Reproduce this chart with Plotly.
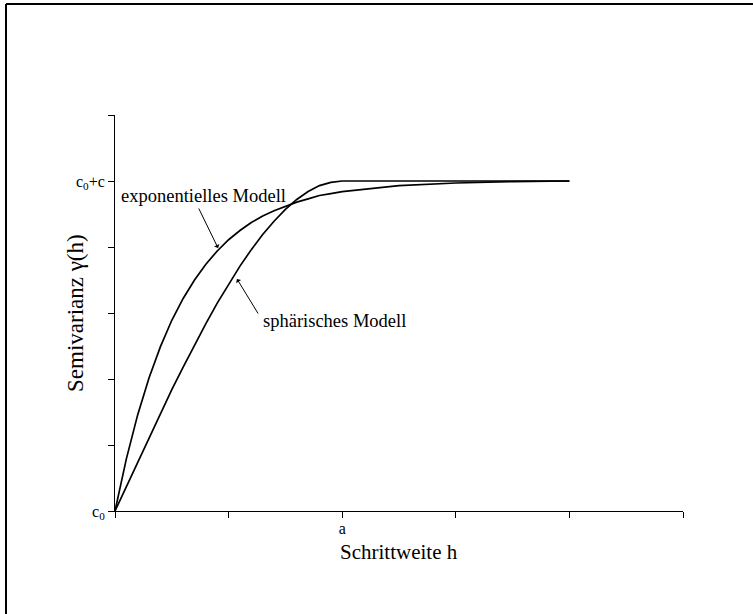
import plotly.graph_objects as go

# Lag distance h (a = 2 marks the range)
h = [0.0, 0.1, 0.2, 0.3, 0.4, 0.5, 0.6, 0.7, 0.8, 0.9, 1.0, 1.1, 1.2, 1.3,
     1.4, 1.5, 1.6, 1.7, 1.8, 1.9, 2.0, 2.5, 3.0, 3.5, 4.0]

# Semivariance of the exponential model
gamma_exp = [0.00, 0.79, 1.46, 2.02, 2.49, 2.89, 3.22, 3.50, 3.74, 3.94, 4.11,
             4.25, 4.37, 4.47, 4.55, 4.62, 4.68, 4.73, 4.78, 4.81, 4.84, 4.93,
             4.97, 4.99, 5.00]

# Semivariance of the spherical model
gamma_sph = [0.00, 0.37, 0.75, 1.12, 1.48, 1.84, 2.18, 2.52, 2.84, 3.15, 3.44,
             3.71, 3.96, 4.19, 4.39, 4.57, 4.72, 4.84, 4.93, 4.98, 5.00, 5.00,
             5.00, 5.00, 5.00]

x_ticks = [0, 1, 2, 3, 4, 5]
x_labels = ["", "", "a", "", "", ""]
y_ticks = [0, 1, 2, 3, 4, 5, 6]
y_labels = ["c<sub>0</sub>", "", "", "", "", "c<sub>0</sub>+c", ""]

FONT = "Liberation Serif"

fig = go.Figure()
for g in (gamma_exp, gamma_sph):
    fig.add_trace(go.Scatter(x=h, y=g, mode="lines",
                             line=dict(color="black", width=1.7),
                             showlegend=False, hoverinfo="skip"))

fig.update_layout(
    width=753, height=614,
    margin=dict(l=115, r=70, t=115, b=103),
    paper_bgcolor="white", plot_bgcolor="white",
    font=dict(family=FONT, color="black"),
    xaxis=dict(range=[0, 5], tickvals=x_ticks, ticktext=x_labels,
               ticks="outside", ticklen=6, tickwidth=1, tickcolor="black",
               showline=True, linecolor="black", linewidth=1,
               showgrid=False, zeroline=False, tickfont=dict(size=16),
               ticklabelstandoff=-3),
    yaxis=dict(range=[0, 6], tickvals=y_ticks, ticktext=y_labels,
               ticks="outside", ticklen=6, tickwidth=1, tickcolor="black",
               showline=True, linecolor="black", linewidth=1,
               showgrid=False, zeroline=False, tickfont=dict(size=16)),
)

# Axis titles
fig.add_annotation(xref="paper", yref="paper", x=0.5, y=-0.1035,
                   text="Schrittweite h", showarrow=False,
                   xanchor="center", yanchor="middle",
                   font=dict(size=21, family=FONT))
fig.add_annotation(xref="paper", yref="paper", x=-0.0704, y=0.5,
                   text="Semivarianz γ(h)", showarrow=False, textangle=-90,
                   xanchor="center", yanchor="middle",
                   font=dict(size=23, family=FONT))

# Outer frame: top and left edges, kept inside the page
fig.add_shape(type="line", xref="paper", yref="paper",
              x0=-0.1919, x1=1.1232, y0=1.2803, y1=1.2803,
              line=dict(color="black", width=2), layer="below")
fig.add_shape(type="line", xref="paper", yref="paper",
              x0=-0.1919, x1=-0.1919, y0=-0.2601, y1=1.2803,
              line=dict(color="black", width=2), layer="below")

# Curve labels and pointers
fig.add_annotation(x=0.776, y=4.77, text="exponentielles Modell",
                   showarrow=False, font=dict(size=18.5, family=FONT))
fig.add_annotation(x=0.907, y=3.985, text="", showarrow=True,
                   ax=-20, ay=-41, arrowhead=1, arrowsize=1, arrowwidth=1,
                   arrowcolor="black")
fig.add_annotation(x=1.932, y=2.88, text="sphärisches Modell",
                   showarrow=False, font=dict(size=18.5, family=FONT))
fig.add_annotation(x=1.074, y=3.515, text="", showarrow=True,
                   ax=22, ay=36, arrowhead=1, arrowsize=1, arrowwidth=1,
                   arrowcolor="black")

# Keep the page free of scrollbars
fig.write_html(
    "out.html",
    post_script="document.documentElement.style.overflow='hidden';"
                "document.body.style.overflow='hidden';",
)
